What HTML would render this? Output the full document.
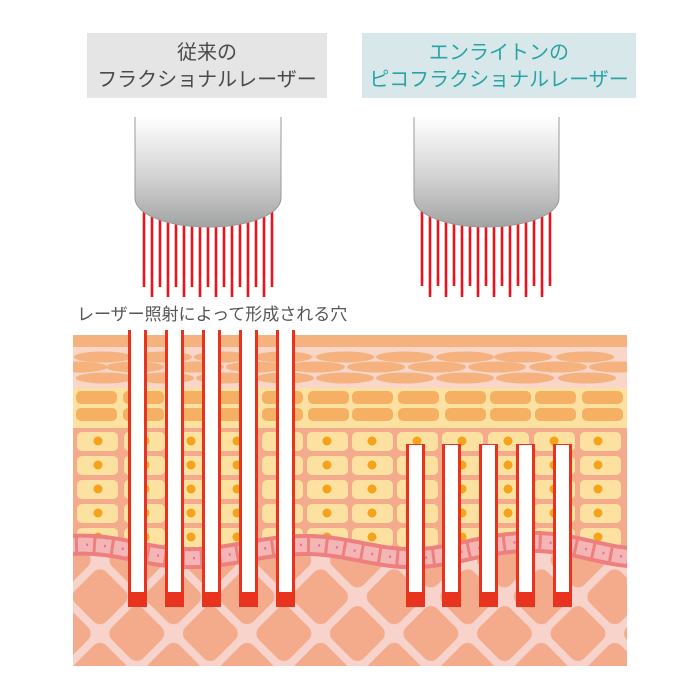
<!DOCTYPE html>
<html><head><meta charset="utf-8"><style>
html,body{margin:0;padding:0;background:#fff;width:700px;height:700px;overflow:hidden}
svg{display:block}
text{font-family:"Liberation Sans","Noto Sans CJK JP",sans-serif}
</style></head><body>
<svg width="700" height="700" viewBox="0 0 700 700" xmlns="http://www.w3.org/2000/svg">
<defs>
<linearGradient id="hg" x1="0" y1="0" x2="0" y2="1">
<stop offset="0" stop-color="#ffffff"/><stop offset="0.55" stop-color="#d2d2d2"/><stop offset="1" stop-color="#a2a3a3"/>
</linearGradient>
<pattern id="derm" patternUnits="userSpaceOnUse" width="52" height="52" x="0" y="0" patternTransform="translate(100 560) rotate(45)">
<rect width="52" height="52" fill="#f7d3cc"/>
<rect x="4" y="4" width="44" height="44" rx="9" fill="#f3ab8b"/>
</pattern>
<clipPath id="skin"><rect x="73" y="335" width="554" height="331"/></clipPath>
</defs>

<!-- titles -->
<rect x="87" y="33" width="240" height="65" fill="#e5e5e5"/>
<text x="207" y="59" font-size="20" fill="#4a4a4a" text-anchor="middle">従来の</text>
<text x="207" y="86" font-size="20" fill="#4a4a4a" text-anchor="middle">フラクショナルレーザー</text>
<rect x="362" y="33" width="274" height="65" fill="#d8e8ea"/>
<text x="499" y="59" font-size="20" fill="#2aa3a6" text-anchor="middle">エンライトンの</text>
<text x="499" y="86" font-size="20" fill="#2aa3a6" text-anchor="middle">ピコフラクショナルレーザー</text>

<!-- laser lines -->
<g stroke="#e8141e" stroke-width="2.6">
<line x1="144" y1="205" x2="144" y2="287"/><line x1="152" y1="205" x2="152" y2="297"/>
<line x1="160" y1="205" x2="160" y2="287"/><line x1="168" y1="205" x2="168" y2="297"/>
<line x1="176" y1="205" x2="176" y2="287"/><line x1="184" y1="205" x2="184" y2="297"/>
<line x1="192" y1="205" x2="192" y2="287"/><line x1="200" y1="205" x2="200" y2="297"/>
<line x1="208" y1="205" x2="208" y2="287"/><line x1="216" y1="205" x2="216" y2="297"/>
<line x1="224" y1="205" x2="224" y2="287"/><line x1="232" y1="205" x2="232" y2="297"/>
<line x1="240" y1="205" x2="240" y2="287"/><line x1="248" y1="205" x2="248" y2="297"/>
<line x1="256" y1="205" x2="256" y2="287"/><line x1="264" y1="205" x2="264" y2="297"/>
<line x1="272" y1="205" x2="272" y2="287"/>
<line x1="422" y1="205" x2="422" y2="286"/><line x1="430" y1="205" x2="430" y2="297"/>
<line x1="438" y1="205" x2="438" y2="286"/><line x1="446" y1="205" x2="446" y2="297"/>
<line x1="454" y1="205" x2="454" y2="286"/><line x1="462" y1="205" x2="462" y2="297"/>
<line x1="470" y1="205" x2="470" y2="286"/><line x1="478" y1="205" x2="478" y2="297"/>
<line x1="486" y1="205" x2="486" y2="286"/><line x1="494" y1="205" x2="494" y2="297"/>
<line x1="502" y1="205" x2="502" y2="286"/><line x1="510" y1="205" x2="510" y2="297"/>
<line x1="518" y1="205" x2="518" y2="286"/><line x1="526" y1="205" x2="526" y2="297"/>
<line x1="534" y1="205" x2="534" y2="286"/><line x1="542" y1="205" x2="542" y2="297"/>
<line x1="550" y1="205" x2="550" y2="286"/>
</g>
<!-- heads -->
<path d="M135,117 L135,198 C135,216 172,227 208,227 C244,227 281,216 281,198 L281,117 Z" fill="url(#hg)"/>
<path d="M135,117 L135,198 C135,216 172,227 208,227 C244,227 281,216 281,198 L281,117" fill="none" stroke="#9a9a9a" stroke-width="1"/>
<path d="M414,117 L414,198 C414,216 450,227 486,227 C522,227 559,216 559,198 L559,117 Z" fill="url(#hg)"/>
<path d="M414,117 L414,198 C414,216 450,227 486,227 C522,227 559,216 559,198 L559,117" fill="none" stroke="#9a9a9a" stroke-width="1"/>

<text x="77" y="320" font-size="17" fill="#555">レーザー照射によって形成される穴</text>

<!-- skin -->
<g clip-path="url(#skin)">
<rect x="73" y="335" width="554" height="331" fill="url(#derm)"/>
<rect x="73" y="335" width="554" height="215" fill="#f3ab8b"/>
<rect x="73" y="335" width="554" height="12" fill="#f5b27f"/>
<rect x="73" y="347" width="554" height="41" fill="#f9d6c8"/>
<g fill="#f5b27f">
<ellipse cx="103" cy="357" rx="29" ry="5.5"/><ellipse cx="163" cy="357" rx="29" ry="5.5"/><ellipse cx="223" cy="357" rx="29" ry="5.5"/><ellipse cx="283" cy="357" rx="29" ry="5.5"/><ellipse cx="345" cy="357" rx="29" ry="5.5"/><ellipse cx="405" cy="357" rx="29" ry="5.5"/><ellipse cx="465" cy="357" rx="29" ry="5.5"/><ellipse cx="523" cy="357" rx="29" ry="5.5"/><ellipse cx="585" cy="357" rx="29" ry="5.5"/>
<ellipse cx="78" cy="367" rx="29" ry="5.5"/><ellipse cx="135" cy="367" rx="29" ry="5.5"/><ellipse cx="195" cy="367" rx="29" ry="5.5"/><ellipse cx="255" cy="367" rx="29" ry="5.5"/><ellipse cx="316" cy="367" rx="29" ry="5.5"/><ellipse cx="376" cy="367" rx="29" ry="5.5"/><ellipse cx="437" cy="367" rx="29" ry="5.5"/><ellipse cx="497" cy="367" rx="29" ry="5.5"/><ellipse cx="558" cy="367" rx="29" ry="5.5"/><ellipse cx="618" cy="367" rx="29" ry="5.5"/>
<ellipse cx="105" cy="378" rx="29" ry="5.5"/><ellipse cx="165" cy="378" rx="29" ry="5.5"/><ellipse cx="225" cy="378" rx="29" ry="5.5"/><ellipse cx="285" cy="378" rx="29" ry="5.5"/><ellipse cx="345" cy="378" rx="29" ry="5.5"/><ellipse cx="405" cy="378" rx="29" ry="5.5"/><ellipse cx="465" cy="378" rx="29" ry="5.5"/><ellipse cx="525" cy="378" rx="29" ry="5.5"/><ellipse cx="587" cy="378" rx="29" ry="5.5"/>
</g>
<rect x="73" y="388" width="554" height="40" fill="#fde1a1"/>
<g fill="#f6b064">
<rect x="76" y="391" width="41" height="13" rx="5"/><rect x="123" y="391" width="41" height="13" rx="5"/><rect x="169" y="391" width="41" height="13" rx="5"/><rect x="215" y="391" width="41" height="13" rx="5"/><rect x="262" y="391" width="41" height="13" rx="5"/><rect x="308" y="391" width="41" height="13" rx="5"/><rect x="352" y="391" width="41" height="13" rx="5"/><rect x="398" y="391" width="41" height="13" rx="5"/><rect x="445" y="391" width="41" height="13" rx="5"/><rect x="490" y="391" width="41" height="13" rx="5"/><rect x="535" y="391" width="41" height="13" rx="5"/><rect x="582" y="391" width="41" height="13" rx="5"/>
<rect x="76" y="408" width="41" height="13" rx="5"/><rect x="123" y="408" width="41" height="13" rx="5"/><rect x="169" y="408" width="41" height="13" rx="5"/><rect x="215" y="408" width="41" height="13" rx="5"/><rect x="262" y="408" width="41" height="13" rx="5"/><rect x="308" y="408" width="41" height="13" rx="5"/><rect x="352" y="408" width="41" height="13" rx="5"/><rect x="398" y="408" width="41" height="13" rx="5"/><rect x="445" y="408" width="41" height="13" rx="5"/><rect x="490" y="408" width="41" height="13" rx="5"/><rect x="535" y="408" width="41" height="13" rx="5"/><rect x="582" y="408" width="41" height="13" rx="5"/>
</g>
<g id="cells">
<g fill="#fde1a1">
<rect x="77" y="432" width="41" height="19" rx="5"/><rect x="124" y="432" width="41" height="19" rx="5"/><rect x="170" y="432" width="41" height="19" rx="5"/><rect x="216" y="432" width="41" height="19" rx="5"/><rect x="262" y="432" width="41" height="19" rx="5"/><rect x="307" y="432" width="41" height="19" rx="5"/><rect x="352" y="432" width="41" height="19" rx="5"/><rect x="397" y="432" width="41" height="19" rx="5"/><rect x="442" y="432" width="41" height="19" rx="5"/><rect x="488" y="432" width="41" height="19" rx="5"/><rect x="534" y="432" width="41" height="19" rx="5"/><rect x="580" y="432" width="41" height="19" rx="5"/>
</g>
<g fill="#f5a31a">
<circle cx="98" cy="441" r="4.5"/><circle cx="145" cy="441" r="4.5"/><circle cx="191" cy="441" r="4.5"/><circle cx="237" cy="441" r="4.5"/><circle cx="283" cy="441" r="4.5"/><circle cx="327" cy="441" r="4.5"/><circle cx="372" cy="441" r="4.5"/><circle cx="417" cy="441" r="4.5"/><circle cx="462" cy="441" r="4.5"/><circle cx="508" cy="441" r="4.5"/><circle cx="554" cy="441" r="4.5"/><circle cx="598" cy="441" r="4.5"/>
</g>
</g>
<use href="#cells" y="24"/><use href="#cells" y="48"/><use href="#cells" y="72"/><use href="#cells" y="96"/>
<!-- basal wave -->
<path d="M60,546 C110,540 140,556 180,558 C230,560 260,544 310,545 C350,546 380,560 420,558 C460,556 490,540 540,542 C580,544 600,556 640,558" fill="none" stroke="#ee7f7f" stroke-width="22"/>
<path d="M60,546 C110,540 140,556 180,558 C230,560 260,544 310,545 C350,546 380,560 420,558 C460,556 490,540 540,542 C580,544 600,556 640,558" fill="none" stroke="#f4b5b5" stroke-width="14" stroke-dasharray="15 3"/>
<path d="M60,546 C110,540 140,556 180,558 C230,560 260,544 310,545 C350,546 380,560 420,558 C460,556 490,540 540,542 C580,544 600,556 640,558" fill="none" stroke="#ec6f9a" stroke-width="2.5" stroke-dasharray="2 16" stroke-dashoffset="-8"/>
</g>

<!-- holes -->
<g>
<g fill="#e8341f">
<rect x="128" y="330" width="19" height="277"/><rect x="165" y="330" width="19" height="277"/><rect x="202" y="330" width="19" height="277"/><rect x="239" y="330" width="19" height="277"/><rect x="276" y="330" width="19" height="277"/>
<rect x="406" y="444" width="19" height="163"/><rect x="442" y="444" width="19" height="163"/><rect x="479" y="444" width="19" height="163"/><rect x="516" y="444" width="19" height="163"/><rect x="553" y="444" width="19" height="163"/>
</g>
<g fill="#fff">
<rect x="131" y="330" width="13" height="262"/><rect x="168" y="330" width="13" height="262"/><rect x="205" y="330" width="13" height="262"/><rect x="242" y="330" width="13" height="262"/><rect x="279" y="330" width="13" height="262"/>
<rect x="409" y="445" width="13" height="147"/><rect x="445" y="445" width="13" height="147"/><rect x="482" y="445" width="13" height="147"/><rect x="519" y="445" width="13" height="147"/><rect x="556" y="445" width="13" height="147"/>
</g>
</g>
</svg>
</body></html>
